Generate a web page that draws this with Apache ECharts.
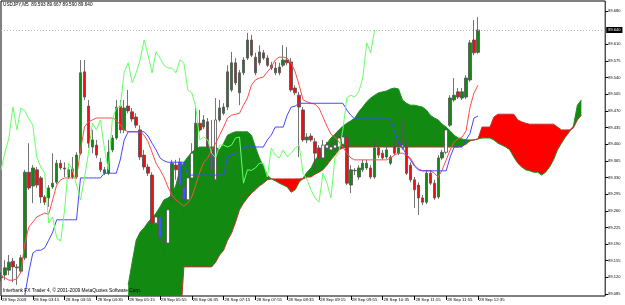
<!DOCTYPE html>
<html><head><meta charset="utf-8">
<script src="https://cdn.jsdelivr.net/npm/echarts@6/dist/echarts.min.js"></script>
<style>html,body{margin:0;padding:0;background:#fff}#c{width:625px;height:305px}</style>
</head><body><div id="c"></div>
<script>
// ---- data (USDJPY M5, 28 Sep 2009) ----
const openP=[89.119,89.125,89.135,89.154,89.142,89.133,89.161,89.341,89.312,89.346,
89.329,89.289,89.287,89.310,89.320,89.360,89.350,89.331,89.348,89.331,
89.381,89.552,89.480,89.394,89.398,89.362,89.339,89.339,89.388,89.413,
89.480,89.430,89.480,89.468,89.457,89.430,89.377,89.352,89.335,89.234,
89.247,89.198,89.192,89.283,89.356,89.362,89.310,89.283,89.329,89.388,
89.444,89.436,89.447,89.392,89.325,89.451,89.465,89.478,89.514,89.571,
89.508,89.550,89.581,89.619,89.583,89.571,89.592,89.581,89.566,89.550,
89.562,89.566,89.577,89.573,89.518,89.503,89.472,89.409,89.417,89.405,
89.392,89.371,89.392,89.388,89.392,89.394,89.400,89.413,89.314,89.344,
89.331,89.346,89.350,89.350,89.331,89.392,89.381,89.373,89.360,89.394,
89.381,89.392,89.394,89.356,89.325,89.314,89.287,89.278,89.339,89.318,
89.289,89.371,89.383,89.440,89.493,89.510,89.497,89.499,89.535,89.619,
89.593];
const highP=[89.131,89.156,89.167,89.161,89.148,89.167,89.346,89.402,89.356,89.352,
89.333,89.293,89.314,89.381,89.367,89.367,89.362,89.352,89.373,89.383,
89.577,89.577,89.493,89.430,89.409,89.371,89.352,89.409,89.419,89.493,
89.493,89.493,89.514,89.476,89.465,89.440,89.388,89.358,89.341,89.253,
89.253,89.226,89.268,89.367,89.367,89.371,89.314,89.335,89.402,89.476,
89.472,89.461,89.455,89.451,89.497,89.493,89.486,89.566,89.594,89.581,
89.556,89.583,89.634,89.630,89.592,89.608,89.598,89.587,89.573,89.573,
89.571,89.608,89.604,89.581,89.524,89.510,89.478,89.423,89.423,89.413,
89.398,89.409,89.405,89.402,89.409,89.430,89.430,89.419,89.356,89.350,
89.356,89.367,89.367,89.356,89.409,89.398,89.388,89.394,89.377,89.409,
89.409,89.451,89.409,89.362,89.331,89.320,89.293,89.346,89.346,89.325,
89.377,89.388,89.436,89.503,89.539,89.518,89.518,89.545,89.619,89.661,
89.667];
const lowP=[89.112,89.114,89.125,89.110,89.104,89.129,89.156,89.304,89.276,89.308,
89.276,89.272,89.268,89.306,89.316,89.346,89.331,89.327,89.327,89.327,
89.377,89.493,89.392,89.381,89.371,89.341,89.335,89.335,89.383,89.409,
89.423,89.423,89.465,89.447,89.434,89.367,89.346,89.333,89.224,89.228,
89.184,89.156,89.188,89.276,89.325,89.308,89.247,89.278,89.325,89.383,
89.426,89.432,89.388,89.341,89.320,89.447,89.461,89.472,89.510,89.524,
89.482,89.545,89.577,89.583,89.545,89.566,89.577,89.562,89.556,89.545,
89.545,89.562,89.566,89.510,89.503,89.373,89.405,89.402,89.405,89.346,
89.367,89.367,89.388,89.383,89.388,89.390,89.396,89.314,89.297,89.335,
89.325,89.341,89.346,89.327,89.327,89.371,89.367,89.369,89.356,89.377,
89.377,89.388,89.335,89.320,89.266,89.251,89.272,89.274,89.314,89.283,
89.285,89.367,89.379,89.436,89.489,89.495,89.493,89.495,89.531,89.587,
89.590];
const closeP=[89.123,89.140,89.152,89.142,89.140,89.161,89.341,89.308,89.350,89.314,
89.289,89.278,89.308,89.318,89.360,89.350,89.348,89.346,89.331,89.377,
89.550,89.499,89.402,89.409,89.377,89.346,89.346,89.383,89.413,89.478,
89.430,89.476,89.470,89.453,89.440,89.373,89.352,89.339,89.234,89.247,
89.203,89.196,89.262,89.360,89.346,89.314,89.283,89.329,89.381,89.444,
89.430,89.451,89.392,89.346,89.451,89.476,89.478,89.552,89.571,89.529,
89.550,89.577,89.619,89.587,89.550,89.594,89.581,89.566,89.560,89.560,
89.550,89.577,89.571,89.514,89.508,89.478,89.409,89.415,89.409,89.381,
89.371,89.398,89.398,89.394,89.398,89.413,89.415,89.318,89.346,89.345,
89.350,89.360,89.360,89.331,89.392,89.377,89.371,89.388,89.373,89.381,
89.392,89.398,89.339,89.325,89.304,89.287,89.278,89.339,89.318,89.287,
89.371,89.383,89.430,89.497,89.503,89.499,89.510,89.539,89.613,89.592,
89.640];
const tenkan=[89.123,89.119,89.114,89.114,89.117,89.131,89.192,89.226,89.236,89.247,
89.251,89.255,89.253,89.283,89.314,89.325,89.329,89.329,89.329,89.329,
89.388,89.436,89.447,89.451,89.455,89.455,89.455,89.455,89.455,89.451,
89.440,89.430,89.426,89.426,89.426,89.426,89.419,89.405,89.383,89.360,
89.346,89.331,89.310,89.293,89.283,89.276,89.270,89.276,89.289,89.314,
89.341,89.362,89.371,89.388,89.402,89.419,89.436,89.455,89.461,89.463,
89.465,89.482,89.497,89.524,89.535,89.539,89.541,89.552,89.562,89.577,
89.583,89.583,89.581,89.571,89.552,89.524,89.493,89.489,89.486,89.484,
89.476,89.457,89.438,89.421,89.415,89.405,89.394,89.381,89.371,89.367,
89.367,89.367,89.367,89.367,89.367,89.367,89.367,89.367,89.371,89.377,
89.381,89.381,89.377,89.371,89.356,89.348,89.344,89.344,89.344,89.339,
89.331,89.346,89.367,89.388,89.405,89.411,89.415,89.428,89.478,89.508,
89.524];
const kijun=[null,null,null,null,null,null,89.083,89.131,89.171,89.177,
89.177,89.182,89.198,89.215,89.241,89.241,89.241,89.241,89.241,89.241,
89.329,89.329,89.329,89.329,89.329,89.329,89.339,89.339,89.339,89.339,
89.367,89.409,89.426,89.426,89.426,89.426,89.426,89.417,89.402,89.388,
89.371,89.365,89.362,89.362,89.362,89.362,89.362,89.335,89.335,89.335,
89.335,89.335,89.335,89.335,89.335,89.335,89.335,89.373,89.377,89.381,
89.381,89.394,89.394,89.394,89.394,89.394,89.394,89.409,89.419,89.436,
89.436,89.436,89.461,89.478,89.480,89.486,89.486,89.486,89.486,89.486,
89.486,89.486,89.486,89.486,89.486,89.486,89.486,89.472,89.461,89.453,
89.453,89.453,89.453,89.453,89.453,89.453,89.453,89.453,89.453,89.426,
89.405,89.394,89.377,89.367,89.354,89.346,89.344,89.344,89.344,89.344,
89.344,89.344,89.344,89.373,89.394,89.394,89.394,89.409,89.423,89.455,
89.459];
// Senkou spans (already shifted 26 bars forward), first value at bar 32
const spanStart=32;
const spanA=[89.104,89.152,89.198,89.215,89.224,89.236,89.245,89.255,
89.268,89.283,89.287,89.293,89.314,89.346,89.362,89.373,89.383,89.390,
89.394,89.394,89.394,89.394,89.394,89.388,89.402,89.419,89.423,89.426,
89.426,89.426,89.426,89.419,89.394,89.371,89.354,89.335,89.327,89.323,
89.318,89.314,89.310,89.299,89.304,89.320,89.329,89.341,89.350,89.367,
89.377,89.392,89.402,89.413,89.421,89.430,89.438,89.444,89.449,89.455,
89.468,89.478,89.489,89.497,89.503,89.508,89.510,89.512,89.516,89.518,
89.516,89.493,89.486,89.482,89.482,89.480,89.478,89.472,89.461,89.455,
89.451,89.442,89.436,89.428,89.419,89.413,89.411,89.409,89.409,89.409,
89.411,89.413,89.413,89.413,89.409,89.402,89.398,89.394,89.388,89.373,
89.360,89.352,89.346,89.344,89.341,89.341,89.335,89.341,89.352,89.367,
89.388,89.402,89.415,89.426,89.438,89.482,89.493];
const spanB=[89.009,89.009,89.009,89.009,89.009,89.009,89.009,89.009,
89.009,89.009,89.009,89.009,89.009,89.009,89.142,89.142,89.142,89.142,
89.142,89.142,89.142,89.142,89.152,89.167,89.177,89.198,89.213,89.236,
89.262,89.276,89.287,89.297,89.304,89.312,89.318,89.325,89.327,89.327,
89.327,89.327,89.327,89.327,89.327,89.327,89.327,89.331,89.331,89.337,
89.341,89.346,89.356,89.367,89.377,89.388,89.392,89.394,89.394,89.394,
89.394,89.394,89.394,89.394,89.394,89.394,89.394,89.394,89.394,89.394,
89.394,89.394,89.394,89.394,89.394,89.394,89.394,89.394,89.394,89.394,
89.394,89.394,89.394,89.394,89.394,89.394,89.396,89.400,89.407,89.409,
89.411,89.436,89.436,89.436,89.457,89.463,89.463,89.463,89.463,89.463,
89.451,89.447,89.444,89.442,89.442,89.442,89.442,89.442,89.442,89.442,
89.436,89.430,89.430,89.430,89.434,89.451,89.461];
const chikouShift=26;
const yTicks=[89.085,89.120,89.155,89.190,89.225,89.260,89.295,89.330,89.365,89.400,
89.435,89.470,89.505,89.540,89.575,89.610,89.680];
const xTickIdx=[0,8,16,24,32,40,48,56,64,72,80,88,96,104,112,120];
const xTickText=['28 Sep 2009','28 Sep 03:15','28 Sep 03:55','28 Sep 04:35','28 Sep 05:15',
'28 Sep 05:55','28 Sep 06:35','28 Sep 07:15','28 Sep 07:55','28 Sep 08:35','28 Sep 09:15',
'28 Sep 09:55','28 Sep 10:35','28 Sep 11:15','28 Sep 11:55','28 Sep 12:35'];
const titleText='USDJPY,M5  89.593 89.667 89.590 89.640';
const footText='Interbank FX Trader 4, \u00a9 2001-2009 MetaQuotes Software Corp.';

// ---- build ----
const N=153;
const cats=Array.from({length:N},(_,i)=>String(i));
function pad(arr,start){const o=new Array(N).fill(null);arr.forEach((v,k)=>{o[start+k]=v;});return o;}
const A=pad(spanA,spanStart), B=pad(spanB,spanStart);
const base=A.map((a,i)=>a==null||B[i]==null?null:Math.min(a,B[i]));
const up=A.map((a,i)=>a==null||B[i]==null?null:Math.max(a-B[i],0));
const dn=A.map((a,i)=>a==null||B[i]==null?null:Math.max(B[i]-a,0));
const chikou=pad(closeP.slice(chikouShift),0);
const candles=openP.map((o,i)=>{
  const c=closeP[i], mid=(o+c)/2;
  const item={value:[o,c,lowP[i],highP[i]]};
  if(A[i]!=null&&B[i]!=null&&A[i]>B[i]&&mid<A[i]&&mid>B[i]){
    item.itemStyle= c>=o?{color:'#ffffff',borderColor:'#555'}:{color0:'#2f5bff',color:'#2f5bff',borderColor:'#555',borderColor0:'#555'};
  }
  return item;
});
const lastClose=closeP[closeP.length-1];
const FONT='"Liberation Sans", Arial, sans-serif';
const showTick=(idx)=>xTickIdx.indexOf(idx)>=0;

const chart=echarts.init(document.getElementById('c'),null,{renderer:'canvas'});
const lineBase={type:'line',symbol:'none',showSymbol:false,silent:true,animation:false,connectNulls:false};
chart.setOption({
  animation:false,
  backgroundColor:'#fff',
  grid:{left:1,top:1,width:604.2,height:295,show:true,borderColor:'#000',borderWidth:1,backgroundColor:'#fff',containLabel:false,outerBoundsMode:'none'},
  xAxis:{type:'category',data:cats,boundaryGap:false,
    axisLine:{show:false},
    axisTick:{show:true,interval:(i)=>showTick(i),length:4,lineStyle:{color:'#000',width:1}},
    axisLabel:{show:true,interval:(i)=>showTick(i),formatter:(v,i)=>{const k=xTickIdx.indexOf(Number(v));return k>=0?xTickText[k]:'';},
      fontSize:4.3,color:'#000',fontFamily:FONT,align:'left',margin:2,padding:[0,0,0,1]},
    splitLine:{show:false}},
  yAxis:{type:'value',position:'right',min:89.0808,max:89.7010,scale:true,
    axisLine:{show:false},splitLine:{show:false},
    axisTick:{show:true,length:3,customValues:yTicks,lineStyle:{color:'#000'}},
    axisLabel:{show:true,customValues:yTicks,formatter:(v)=>Number(v).toFixed(3),fontSize:4,color:'#000',fontFamily:FONT,margin:3}},
  series:[
    Object.assign({},lineBase,{name:'base',data:base,stack:'cloud',lineStyle:{width:0,opacity:0},z:1}),
    Object.assign({},lineBase,{name:'up',data:up,stack:'cloud',lineStyle:{width:0,opacity:0},areaStyle:{color:'#128a12',opacity:1},z:1}),
    Object.assign({},lineBase,{name:'dn',data:dn,stack:'cloud',lineStyle:{width:0,opacity:0},areaStyle:{color:'#ff0000',opacity:1},z:1}),
    Object.assign({},lineBase,{name:'spanA',data:A,lineStyle:{color:'#1f8f1f',width:1},z:2}),
    Object.assign({},lineBase,{name:'spanB',data:B,lineStyle:{color:'#c83030',width:1},z:2}),
    {type:'candlestick',name:'price',data:candles,barWidth:3,silent:true,animation:false,z:3,
      itemStyle:{color:'#118a11',color0:'#ee1010',borderColor:'#505050',borderColor0:'#505050',borderWidth:0.8},
      markLine:{silent:true,symbol:['none','none'],animation:false,
        lineStyle:{color:'#b8b8b8',type:[1,2],width:1},
        label:{show:true,position:'end',distance:1,formatter:()=>lastClose.toFixed(3),backgroundColor:'#000',color:'#fff',fontSize:4,fontFamily:FONT,padding:[1,2,1,2]},
        data:[{yAxis:lastClose}]}},
    Object.assign({},lineBase,{name:'tenkan',data:pad(tenkan,0),lineStyle:{color:'#ff4a4a',width:1},z:4}),
    Object.assign({},lineBase,{name:'kijun',data:pad(kijun,0),lineStyle:{color:'#4646ff',width:1},z:4}),
    Object.assign({},lineBase,{name:'chikou',data:chikou,lineStyle:{color:'#66ff66',width:1},z:4})
  ],
  graphic:[
    {type:'text',left:3,top:2.5,z:100,silent:true,style:{text:titleText,fontSize:4.7,fill:'#000',fontFamily:FONT}},
    {type:'text',left:3,top:288,z:100,silent:true,style:{text:footText,fontSize:4.8,fill:'#000',fontFamily:FONT}}
  ]
});
</script></body></html>
